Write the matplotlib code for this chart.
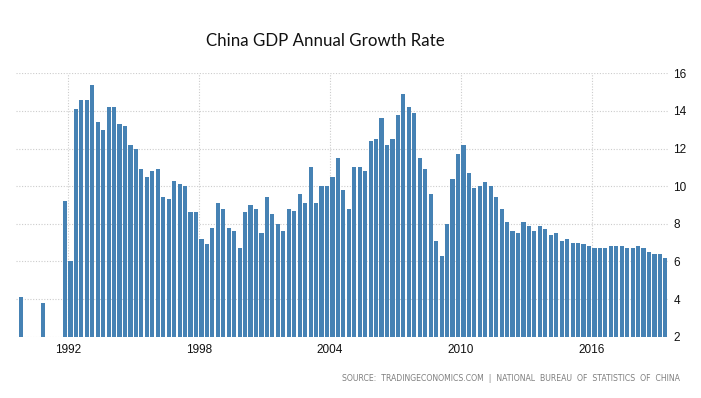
import pandas as pd
import matplotlib
matplotlib.use('Agg')
import matplotlib.pyplot as plt

# Quarters shown on the chart (three isolated early quarters, then continuous)
early_quarters = ['1989Q4', '1990Q4', '1991Q4']
early_values = [4.1, 3.8, 9.2]

# 1992Q1 .. 2019Q2
quarterly_values = [
    6.0, 14.1, 14.6, 14.6,   # 1992
    15.4, 13.4, 13.0, 14.2,  # 1993
    14.2, 13.3, 13.2, 12.2,  # 1994
    12.0, 10.9, 10.5, 10.8,  # 1995
    10.9, 9.4, 9.3, 10.3,    # 1996
    10.1, 10.0, 8.6, 8.6,    # 1997
    7.2, 6.9, 7.8, 9.1,      # 1998
    8.8, 7.8, 7.6, 6.7,      # 1999
    8.6, 9.0, 8.8, 7.5,      # 2000
    9.4, 8.5, 8.0, 7.6,      # 2001
    8.8, 8.7, 9.6, 9.1,      # 2002
    11.0, 9.1, 10.0, 10.0,   # 2003
    10.5, 11.5, 9.8, 8.8,    # 2004
    11.0, 11.0, 10.8, 12.4,  # 2005
    12.5, 13.6, 12.2, 12.5,  # 2006
    13.8, 14.9, 14.2, 13.9,  # 2007
    11.5, 10.9, 9.6, 7.1,    # 2008
    6.3, 8.0, 10.4, 11.7,    # 2009
    12.2, 10.7, 9.9, 10.0,   # 2010
    10.2, 10.0, 9.4, 8.8,    # 2011
    8.1, 7.6, 7.5, 8.1,      # 2012
    7.9, 7.6, 7.9, 7.7,      # 2013
    7.4, 7.5, 7.1, 7.2,      # 2014
    7.0, 7.0, 6.9, 6.8,      # 2015
    6.7, 6.7, 6.7, 6.8,      # 2016
    6.8, 6.8, 6.7, 6.7,      # 2017
    6.8, 6.7, 6.5, 6.4,      # 2018
    6.4, 6.2,                # 2019
]

year_ticks = [1992, 1998, 2004, 2010, 2016]
y_ticks = [2, 4, 6, 8, 10, 12, 14, 16]

quarters = pd.PeriodIndex(early_quarters, freq='Q').append(
    pd.period_range('1992Q1', '2019Q2', freq='Q'))
values = early_values + quarterly_values

# bar centre = middle of the quarter, in fractional years
x = quarters.year + (quarters.quarter - 0.5) / 4.0

bar_color = '#4682b4'
grid_color = '#cccccc'

fig = plt.figure(figsize=(7.01, 3.98), dpi=100)
ax = fig.add_axes([0.0224, 0.154, 0.9324, 0.662])

ax.bar(x, values, width=0.19, color=bar_color, zorder=2)

ax.set_xlim(1989.618, 2019.555)
ax.set_ylim(2, 16)
ax.set_xticks(year_ticks)
ax.set_xticklabels([str(y) for y in year_ticks])
ax.set_yticks(y_ticks)
ax.yaxis.tick_right()

ax.grid(True, color=grid_color, linestyle=(0, (1, 1.5)), linewidth=0.8, zorder=0)
for s in ax.spines.values():
    s.set_visible(False)
ax.tick_params(axis='both', length=0, labelsize=8.5, labelcolor='#111111')
ax.tick_params(axis='x', pad=5)
ax.tick_params(axis='y', pad=3)
for lab in ax.get_xticklabels() + ax.get_yticklabels():
    lab.set_family('Liberation Sans')

fig.text(0.464, 0.897, 'China GDP Annual Growth Rate', ha='center', va='center',
         fontsize=12.2, family='Lato', color='#111111')
fig.text(0.970, 0.050, 'SOURCE:  TRADINGECONOMICS.COM  |  NATIONAL  BUREAU  OF  STATISTICS  OF  CHINA',
         ha='right', va='center', fontsize=5.6, family='DejaVu Sans', color='#7f7f7f')

plt.savefig('out.png', dpi=100)
